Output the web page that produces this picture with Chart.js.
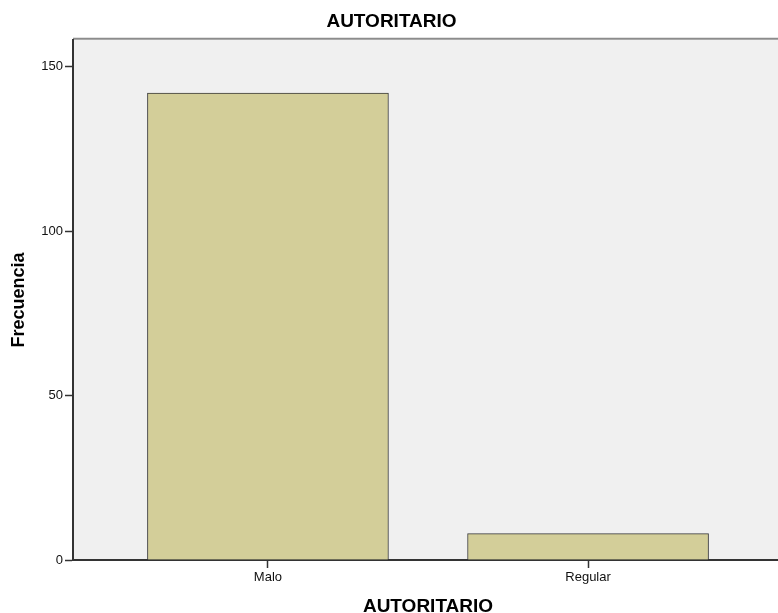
<!DOCTYPE html>
<html>
<head>
<meta charset="utf-8">
<script src="https://cdn.jsdelivr.net/npm/chart.js@4.4.1/dist/chart.umd.min.js"></script>
<style>
  html, body { margin: 0; padding: 0; background: #fff; overflow: hidden; }
  #wrap { width: 783px; height: 613px; position: relative; }
</style>
</head>
<body>
<div id="wrap"><canvas id="barChart"></canvas></div>
<script>
// data
const categories = ["Malo", "Regular"];
const frecuencia = [142, 8];
const yTicks = [0, 50, 100, 150];

const FONT = "'Liberation Sans', Arial, sans-serif";

// grey plot background + thin top frame, like the SPSS output
const plotBackground = {
  id: "plotBackground",
  beforeDraw(chart) {
    const { ctx, chartArea: a } = chart;
    ctx.save();
    ctx.fillStyle = "#f0f0f0";
    ctx.fillRect(a.left, a.top, a.right - a.left, a.bottom - a.top);
    ctx.strokeStyle = "#8c8c8c";
    ctx.lineWidth = 2;
    ctx.beginPath();
    ctx.moveTo(a.left, a.top - 1);
    ctx.lineTo(a.right, a.top - 1);
    ctx.stroke();
    ctx.restore();
  },
};

const ctxBar = document.getElementById("barChart").getContext("2d");
const barChart = new Chart(ctxBar, {
  type: "bar",
  data: {
    datasets: [
      {
        label: "Frecuencia",
        data: frecuencia.map((v, i) => ({ x: i, y: v })),
        backgroundColor: "#d3ce99",
        borderColor: "#3a3a3a",
        borderWidth: 1,
        barThickness: 241,
      },
    ],
  },
  options: {
    responsive: true,
    maintainAspectRatio: false,
    animation: false,
    layout: { padding: 0 },
    plugins: {
      legend: { display: false },
      tooltip: { enabled: false },
      title: {
        display: true,
        text: "AUTORITARIO",
        color: "#000",
        font: { family: FONT, size: 19, weight: "bold" },
        padding: { top: 10, bottom: 7 },
      },
    },
    scales: {
      x: {
        type: "linear",
        offset: false,
        min: -0.609,
        max: 1.609,
        afterBuildTicks: (s) => {
          s.ticks = categories.map((c, i) => ({ value: i }));
        },
        afterFit: (s) => {
          s.height = 53;
        },
        ticks: {
          callback: (v) => categories[v],
          color: "#111",
          font: { family: FONT, size: 13 },
          padding: 2,
          maxRotation: 0,
        },
        grid: {
          offset: false,
          drawOnChartArea: false,
          drawTicks: true,
          tickLength: 8,
          tickColor: "#333",
          tickWidth: 1.5,
        },
        border: { display: true, color: "#333", width: 2 },
        title: {
          display: true,
          text: "AUTORITARIO",
          color: "#000",
          font: { family: FONT, size: 19, weight: "bold" },
          padding: { top: 0, bottom: -5 },
        },
      },
      y: {
        min: 0,
        max: 158.2,
        afterBuildTicks: (s) => {
          s.ticks = yTicks.map((v) => ({ value: v }));
        },
        afterFit: (s) => {
          s.width = 73;
        },
        ticks: {
          color: "#111",
          font: { family: FONT, size: 13 },
          padding: 2,
        },
        grid: {
          drawOnChartArea: false,
          drawTicks: true,
          tickLength: 8,
          tickColor: "#333",
          tickWidth: 1.5,
        },
        border: { display: true, color: "#333", width: 2 },
        title: {
          display: true,
          text: "Frecuencia",
          color: "#000",
          font: { family: FONT, size: 18, weight: "bold" },
          padding: { top: 8, bottom: 0 },
        },
      },
    },
  },
  plugins: [plotBackground],
});
</script>
</body>
</html>
